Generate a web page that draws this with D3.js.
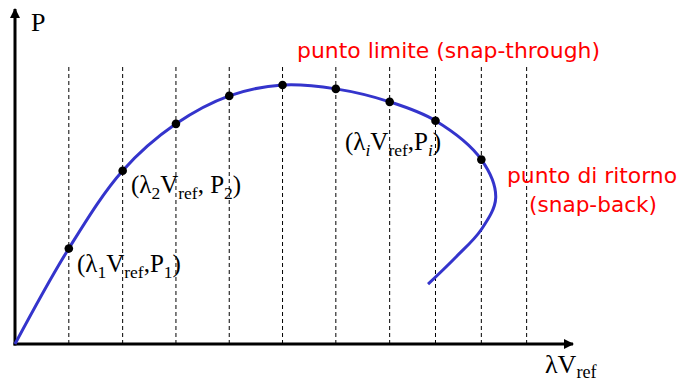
<!DOCTYPE html>
<html>
<head>
<meta charset="utf-8">
<script src="https://cdn.jsdelivr.net/npm/d3@7"></script>
<style>
  html, body { margin: 0; padding: 0; background: #fff; }
  svg { display: block; }
</style>
</head>
<body>
<svg id="chart" width="682" height="383"></svg>
<script>
// Load steps along the displacement axis (λ·V_ref), in step units
const stepLambda = [1.01, 2.02, 3.02, 4.02, 5.02, 6.02, 7.03, 7.89, 8.75, 9.6];

// Equilibrium path: displacement (λ·V_ref) and load P
const pathLambda = [0, 1.01, 2.02, 3.02, 4.02, 5.02, 6.02, 7.03, 7.89, 8.75, 9.02, 8.75, 8.27, 7.75];
const pathLoad   = [0, 0.369, 0.669, 0.85, 0.958, 1.0, 0.985, 0.935, 0.862, 0.712, 0.565, 0.442, 0.335, 0.231];

// Marked equilibrium points (indices into the path)
const markedIdx = [1, 2, 3, 4, 5, 6, 7, 8, 9];

const svg = d3.select("#chart");
const x = d3.scaleLinear().domain([0, 10.47]).range([15, 573]);
const y = d3.scaleLinear().domain([0, 1]).range([344, 85]);

const serif = "'Liberation Serif', 'Times New Roman', serif";
const hand = "'Comic Sans MS', 'DejaVu Sans', sans-serif";

// dashed load-step lines
svg.append("g").selectAll("line").data(stepLambda).join("line")
  .attr("x1", d => x(d)).attr("x2", d => x(d))
  .attr("y1", 67).attr("y2", 344)
  .attr("stroke", "#000").attr("stroke-width", 1)
  .attr("stroke-dasharray", "4,3");

// axes with arrowheads
const defs = svg.append("defs");
defs.append("marker").attr("id", "arrow")
  .attr("viewBox", "0 0 10 10").attr("refX", 9).attr("refY", 5)
  .attr("markerWidth", 3.4).attr("markerHeight", 3.4)
  .attr("markerUnits", "strokeWidth").attr("orient", "auto")
  .append("path").attr("d", "M0,0 L10,5 L0,10 Z").attr("fill", "#000");

svg.append("line")
  .attr("x1", x(0)).attr("y1", y(0) + 1.5).attr("x2", x(0)).attr("y2", 9)
  .attr("stroke", "#000").attr("stroke-width", 3).attr("marker-end", "url(#arrow)");
svg.append("line")
  .attr("x1", x(0) - 1.5).attr("y1", y(0)).attr("x2", 573).attr("y2", y(0))
  .attr("stroke", "#000").attr("stroke-width", 3).attr("marker-end", "url(#arrow)");

// equilibrium path
const pts = pathLambda.map((l, i) => [l, pathLoad[i]]);
const line = d3.line().x(d => x(d[0])).y(d => y(d[1])).curve(d3.curveCatmullRom.alpha(0.5));
svg.append("path").datum(pts).attr("d", line)
  .attr("fill", "none").attr("stroke", "#3434cc").attr("stroke-width", 3);

// equilibrium points
svg.append("g").selectAll("circle").data(markedIdx).join("circle")
  .attr("cx", i => x(pathLambda[i])).attr("cy", i => y(pathLoad[i]))
  .attr("r", 4.3).attr("fill", "#000");

// axis labels
svg.append("text").attr("x", 31).attr("y", 31)
  .attr("font-family", serif).attr("font-size", 26).text("P");

function subLabel(xp, yp, parts, size, drop) {
  const t = svg.append("text").attr("x", xp).attr("y", yp)
    .attr("font-family", serif).attr("font-size", size).attr("fill", "#000");
  let shifted = 0;
  parts.forEach(p => {
    const span = t.append("tspan").text(p.t);
    const target = p.sub ? drop : 0;
    span.attr("dy", target - shifted);
    shifted = target;
    if (p.sub) span.attr("font-size", size * 0.7);
    if (p.it) span.attr("font-style", "italic");
  });
  return t;
}

subLabel(545, 373, [{t: "λV"}, {t: "ref", sub: true}], 26, 5);
subLabel(77, 272, [{t: "(λ"}, {t: "1", sub: true}, {t: "V"}, {t: "ref", sub: true}, {t: ","}, {t: "P"}, {t: "1", sub: true}, {t: ")"}], 25, 6);
subLabel(131, 193, [{t: "(λ"}, {t: "2", sub: true}, {t: "V"}, {t: "ref", sub: true}, {t: ", "}, {t: "P"}, {t: "2", sub: true}, {t: ")"}], 25, 6);
subLabel(345, 150, [{t: "(λ"}, {t: "i", sub: true, it: true}, {t: "V"}, {t: "ref", sub: true}, {t: ","}, {t: "P"}, {t: "i", sub: true, it: true}, {t: ")"}], 25, 6);

// annotations
function note(xp, yp, str, w) {
  svg.append("text").attr("x", xp).attr("y", yp)
    .attr("font-family", hand).attr("font-size", 21).attr("fill", "#ff0000")
    .attr("textLength", w).attr("lengthAdjust", "spacingAndGlyphs")
    .text(str);
}
note(297, 58, "punto limite (snap-through)", 303);
note(507, 183, "punto di ritorno", 170);
note(529, 212, "(snap-back)", 128);
</script>
</body>
</html>
